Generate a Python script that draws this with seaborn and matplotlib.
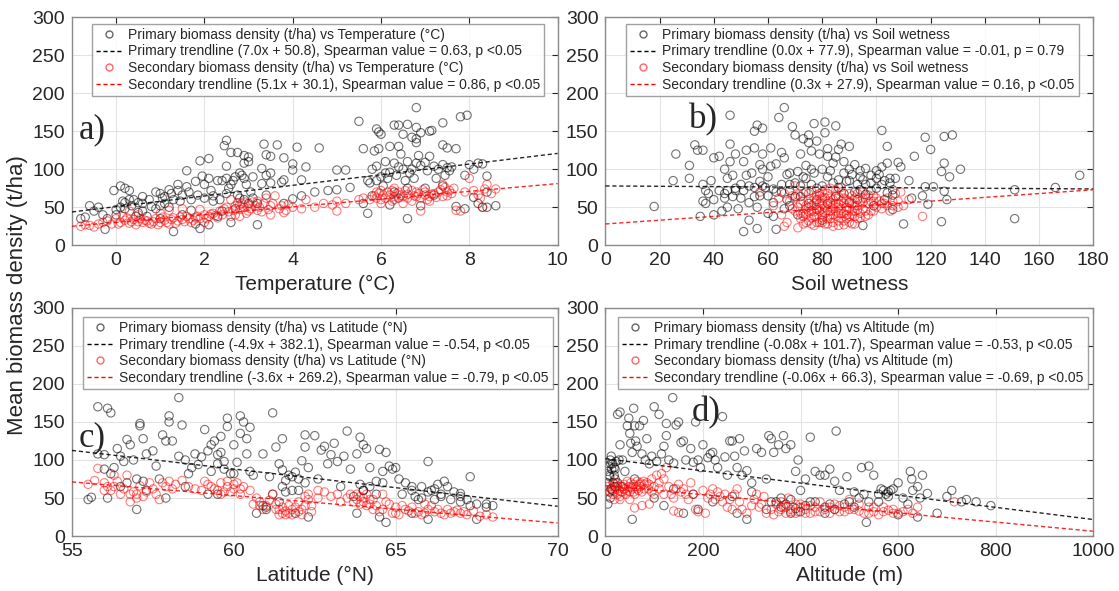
import numpy as np
import pandas as pd
import matplotlib
matplotlib.use("Agg")
import matplotlib.pyplot as plt
import seaborn as sns
from matplotlib.lines import Line2D

# ---- panel a: temperature ----
temp_prim_x = [6.8, 7.95, 7.8, 5.5, 7.4, 5.9, 6.3, 6.4, 6.6, 6.8, 6.9, 7.1, 7.15, 6.0, 5.95, 6.8, 6.5, 6.7, 6.4, 6.8,
               7.4, 7.5, 7.7, 6.2, 5.85, 5.95, 2.5, 2.45, 2.6, 2.75, 2.9, 3.0, 3.35, 3.65, 3.4, 3.5, 4.1, 4.6, 5.6, 3.8,
               1.9, 2.1, 1.6, 2.5, 2.9, 3.0, 3.3, 3.5, 3.4, 4.0, 4.0, 4.3, 5.0, 5.2, 1.0, 0.1, 0.2, -0.05, 0.3, 0.6,
               0.9, 1.2, 1.4, 1.4, 1.6, 1.8, 1.95, 2.0, 2.1, 2.3, 2.4, 2.5, 2.6, 2.7, 2.8, 2.9, 3.1, 3.3, 3.5, 3.8,
               3.75, 4.2, 4.5, 4.8, 5.0, 5.3, 5.7, 5.8, 5.9, 6.0, 6.1, 6.2, 6.3, 6.4, 6.5, 6.6, 6.7, 6.8, 6.9, 7.0,
               7.1, 7.2, 7.3, 7.4, 7.5, 7.6, 7.9, 8.0, 8.1, 8.2, 8.3, 8.4, 5.75, 5.8, 5.6, 5.7, 6.2, 6.4, 6.6, 6.9,
               7.0, 7.2, 7.4, 7.7, 7.9, 8.2, 8.3, 8.4, 8.6, 8.1, 8.4, 0.0, -0.3, -0.5, -0.7, -0.8, -0.2, -0.25, 0.2, 0.4,
               0.5, 0.8, 1.0, 1.1, 1.3, 1.2, 1.3, 1.5, 1.7, 1.8, 1.9, 2.1, 2.2, 2.3, 2.4, 2.6, 2.8, 2.9, 3.0, 3.2,
               0.1, 0.5, 0.7, 1.0, 0.3, 0.2, -0.4, -0.6, 0.9, 1.7, 2.2, 2.5, 2.7, 3.1, 3.4, 3.8, 4.0, 4.2, 2.0, 1.5,
               1.1, 0.6]
temp_prim_y = [181, 171, 169, 163, 161, 153, 158, 158, 159, 155, 148, 150, 151, 146, 149, 140, 146, 142, 130, 135,
               132, 128, 127, 130, 124, 127, 138, 131, 122, 122, 118, 116, 133, 132, 119, 117, 129, 128, 127, 115,
               111, 114, 98, 104, 108, 110, 101, 95, 92, 107, 99, 103, 99, 99, 68, 78, 75, 72, 72, 64,
               70, 73, 80, 72, 77, 84, 91, 80, 88, 85, 85, 88, 80, 90, 95, 88, 90, 81, 82, 86,
               83, 86, 70, 72, 73, 76, 85, 100, 104, 90, 95, 96, 108, 103, 100, 110, 100, 108, 105, 109,
               117, 104, 100, 106, 102, 103, 92, 106, 100, 108, 107, 91, 82, 65, 55, 42, 53, 62, 35, 52,
               75, 66, 78, 51, 48, 55, 50, 50, 52, 63, 70, 47, 40, 45, 37, 35, 35, 21, 56, 60,
               56, 51, 52, 55, 60, 50, 18, 40, 46, 28, 22, 27, 58, 38, 45, 30, 62, 60, 55, 27,
               50, 43, 38, 35, 60, 48, 50, 52, 48, 60, 65, 68, 48, 62, 66, 55, 61, 65, 62, 66,
               64, 45]
temp_prim_more = [(0.0, 40), (0.15, 58), (0.35, 52), (0.45, 38), (0.6, 55), (0.75, 60), (1.05, 62), (1.25, 68),
                  (1.45, 58), (1.65, 70), (1.85, 66), (2.15, 72), (2.35, 60), (2.55, 75), (2.65, 85), (2.75, 66),
                  (2.85, 92), (2.95, 80), (3.05, 70), (3.2, 55), (6.05, 78), (6.15, 88), (6.35, 92), (6.55, 85),
                  (6.65, 95), (6.75, 88), (6.85, 118), (7.05, 98), (7.25, 88), (7.45, 92), (7.55, 98), (6.3, 70),
                  (6.6, 75), (5.9, 85), (6.1, 110), (6.45, 120)]
temp_sec_x = [-0.8, -0.6, -0.5, -0.3, -0.2, -0.1, 0.0, 0.1, 0.15, 0.2, 0.3, 0.4, 0.5, 0.6, 0.7, 0.8, 0.9, 1.0, 1.05, 1.1,
              1.2, 1.3, 1.4, 1.5, 1.6, 1.7, 1.8, 1.9, 2.0, 2.1, 2.2, 2.3, 2.35, 2.4, 2.5, 2.55, 2.6, 2.7, 2.75, 2.8,
              2.85, 2.9, 2.95, 3.0, 3.05, 3.1, 3.2, 3.3, 3.35, 3.4, 3.5, 3.6, 3.7, 3.8, 3.9, 4.0, 4.2, 4.5, 4.7, 5.0,
              5.2, 5.5, 5.6, 5.75, 5.85, 5.9, 5.95, 6.0, 6.1, 6.2, 6.25, 6.3, 6.35, 6.4, 6.5, 6.55, 6.6, 6.7, 6.75, 6.8,
              6.85, 6.9, 6.95, 7.0, 7.05, 7.1, 7.2, 7.3, 7.4, 7.45, 7.5, 7.55, 7.6, 7.7, 7.8, 7.9, 8.0, 8.1, 8.2, 8.25,
              8.3, 8.35, 8.4, 8.5, 8.6, 7.4, 6.0, 6.5, 6.9, 7.1, 3.5, 2.0, 1.0, 0.5, 0.3, 1.2, 1.5, 1.9, 2.6, 2.8,
              3.2, 4.3, 4.9, 6.3, 5.0]
temp_sec_y = [25, 26, 24, 30, 32, 28, 35, 30, 38, 33, 29, 34, 31, 30, 32, 28, 35, 30, 37, 33,
              28, 36, 32, 34, 38, 30, 36, 35, 40, 38, 42, 36, 45, 40, 50, 44, 38, 52, 56, 47,
              55, 50, 42, 53, 48, 57, 46, 44, 55, 62, 52, 65, 48, 43, 54, 50, 48, 50, 55, 58,
              55, 60, 62, 60, 65, 70, 68, 72, 62, 66, 72, 60, 68, 70, 64, 72, 67, 58, 65, 70,
              68, 62, 73, 66, 60, 64, 68, 70, 80, 76, 65, 72, 68, 46, 45, 70, 88, 72, 66, 62,
              50, 74, 80, 68, 74, 64, 55, 55, 45, 58, 40, 30, 42, 40, 45, 46, 48, 47, 60, 38,
              58, 60, 53, 75, 45]
temp_sec_more = [(0.05, 28), (0.25, 36), (0.35, 31), (0.45, 27), (0.55, 35), (0.65, 33), (0.75, 29), (0.85, 31),
                 (0.95, 27), (1.15, 30), (1.25, 34), (1.35, 29), (1.45, 37), (1.55, 31), (1.65, 35), (1.75, 33),
                 (1.85, 38), (2.05, 35), (2.15, 41), (2.25, 39), (2.45, 48), (2.65, 46), (2.7, 40), (2.8, 53),
                 (2.9, 57), (3.0, 45), (3.15, 52), (3.25, 50), (3.45, 47), (3.55, 55), (3.75, 52), (3.85, 46),
                 (5.9, 62), (6.05, 66), (6.15, 70), (6.3, 64), (6.45, 66), (6.6, 62), (6.7, 72), (6.8, 64),
                 (7.0, 70), (7.15, 67), (7.25, 63), (7.35, 73), (7.5, 70), (7.65, 75), (6.0, 60), (6.25, 58),
                 (-0.4, 28), (-0.7, 27)]

# ---- panel b: soil wetness ----
soil_prim_x = [18, 25, 26, 31, 31, 33, 34, 35, 36, 36, 37, 36, 37, 38, 39, 40, 40, 42, 43, 44,
               44, 45, 45, 46, 46, 46, 47, 47, 48, 48, 49, 50, 51, 51, 51, 52, 52, 53, 53, 54,
               55, 55, 55, 56, 56, 56, 57, 57, 58, 58, 58, 59, 60, 60, 60, 61, 61, 62, 62, 63,
               63, 64, 65, 65, 66, 66, 67, 67, 68, 68, 69, 70, 70, 71, 71, 72, 73, 73, 74, 74,
               75, 75, 76, 76, 77, 77, 78, 78, 79, 80, 80, 81, 81, 82, 82, 83, 84, 85, 85, 86,
               86, 87, 88, 88, 89, 90, 90, 92, 93, 93, 94, 95, 95, 96, 98, 100, 100, 101, 102, 102,
               103, 104, 104, 105, 106, 106, 107, 108, 109, 110, 112, 113, 114, 117, 118, 118, 119, 120, 121, 124,
               124, 125, 125, 125, 126, 127, 128, 131, 151, 151, 166, 175, 40, 45, 53, 57, 63, 66, 68, 72,
               75, 85, 90, 94, 99, 104, 78, 82, 86, 91, 96, 98]
soil_prim_y = [51, 85, 120, 105, 88, 132, 125, 38, 125, 80, 72, 58, 55, 68, 85, 40, 115, 117, 45, 100,
               68, 88, 50, 171, 133, 110, 92, 64, 120, 75, 48, 62, 110, 72, 18, 92, 125, 33, 56, 95,
               150, 128, 76, 158, 50, 22, 106, 84, 154, 120, 100, 76, 65, 90, 42, 128, 104, 56, 38, 107,
               21, 168, 122, 80, 181, 115, 60, 93, 95, 52, 156, 145, 64, 40, 97, 120, 90, 140, 105, 70,
               145, 135, 100, 124, 160, 95, 137, 47, 120, 100, 33, 162, 148, 117, 127, 98, 108, 157, 116, 76,
               126, 133, 95, 110, 84, 100, 130, 106, 60, 80, 98, 26, 86, 67, 82, 88, 75, 93, 151, 103,
               60, 130, 108, 82, 47, 66, 88, 109, 103, 28, 85, 62, 117, 65, 142, 77, 54, 126, 77, 97,
               31, 143, 108, 71, 60, 90, 145, 100, 35, 73, 76, 92, 60, 72, 78, 65, 70, 48, 72, 78,
               55, 64, 56, 73, 52, 69, 75, 90, 86, 93, 101, 72]
soil_prim_more = [(78, 60), (80, 78), (82, 55), (84, 82), (88, 68), (90, 85), (92, 70), (94, 90), (96, 80),
                  (98, 92), (100, 98), (102, 80), (103, 85), (105, 88), (106, 73), (76, 80), (74, 88), (72, 64),
                  (70, 82), (68, 80), (65, 70), (62, 74), (58, 78), (55, 64), (50, 80), (48, 72), (44, 62), (42, 72)]
soil_sec_x = [57, 62, 64, 65, 66, 67, 68, 69, 70, 70, 71, 72, 72, 73, 73, 74, 74, 75, 75, 76,
              76, 77, 77, 78, 78, 79, 79, 80, 80, 80, 81, 81, 82, 82, 83, 83, 84, 84, 85, 85,
              86, 86, 87, 87, 88, 88, 89, 89, 90, 90, 91, 91, 92, 92, 93, 93, 94, 94, 95, 95,
              96, 96, 97, 98, 99, 100, 101, 102, 103, 104, 105, 106, 107, 108, 109, 110, 112, 117, 76, 78,
              81, 83, 85, 87, 89, 91, 79, 84, 86, 74, 70, 66, 88, 93, 82, 80, 77, 86, 90, 84,
              95, 99, 73, 75, 80, 83, 92, 87]
soil_sec_y = [70, 52, 62, 40, 25, 30, 58, 65, 78, 45, 23, 55, 35, 68, 28, 48, 40, 60, 32, 72,
              52, 44, 26, 66, 38, 55, 30, 70, 48, 40, 62, 28, 58, 35, 75, 45, 52, 30, 65, 38,
              55, 26, 48, 70, 42, 32, 60, 50, 68, 38, 55, 28, 45, 62, 35, 52, 58, 42, 70, 48,
              38, 62, 55, 45, 65, 50, 58, 48, 55, 62, 45, 52, 68, 58, 70, 52, 60, 38, 36, 58,
              50, 35, 45, 35, 40, 45, 45, 40, 42, 52, 62, 68, 55, 47, 68, 55, 63, 64, 48, 60,
              56, 58, 42, 44, 30, 56, 38, 58]
soil_sec_more = [(71, 50), (72, 42), (73, 58), (74, 30), (75, 68), (76, 45), (77, 38), (78, 50), (79, 65),
                 (80, 36), (81, 42), (82, 46), (83, 62), (84, 48), (85, 55), (86, 32), (87, 42), (88, 62),
                 (89, 35), (90, 58), (91, 40), (92, 52), (93, 68), (94, 36), (95, 62), (96, 45), (97, 40),
                 (98, 58), (100, 62), (102, 55), (76, 28), (78, 30), (82, 28), (84, 25), (88, 27), (90, 30),
                 (92, 28), (80, 62), (85, 72), (87, 76), (81, 73), (79, 68), (77, 55), (75, 50), (73, 38),
                 (86, 50), (89, 46), (91, 65), (83, 40), (97, 66), (99, 45), (104, 52), (106, 58), (108, 50),
                 (71, 66), (69, 48)]

# ---- panel c: latitude ----
lat_prim_x = [55.5, 55.6, 55.8, 55.8, 56.1, 56.2, 56.0, 56.0, 56.2, 56.3, 56.4, 56.5, 56.6, 56.7, 56.8, 56.9, 57.0, 57.0,
              57.1, 57.1, 57.2, 57.3, 57.3, 57.5, 57.6, 57.7, 57.8, 57.9, 57.9, 58.0, 58.0, 58.1, 58.3, 58.3, 58.4,
              58.5, 58.6, 58.8, 58.9, 59.0, 59.1, 59.2, 59.3, 59.4, 59.5, 59.6, 59.6, 59.7, 59.8, 59.8, 59.9, 60.0,
              60.1, 60.2, 60.2, 60.3, 60.4, 60.4, 60.5, 60.5, 60.6, 60.9, 61.1, 61.2, 61.3, 61.4, 61.5, 61.5, 61.6,
              61.7, 61.8, 61.9, 62.1, 62.2, 62.2, 62.3, 62.5, 62.6, 62.7, 62.8, 62.9, 63.0, 63.1, 63.2, 63.4, 63.5,
              63.6, 63.8, 63.9, 64.0, 64.1, 64.2, 64.5, 64.6, 64.7, 64.8, 64.9, 65.0, 65.1, 65.3, 65.5, 65.8, 66.0,
              66.1, 66.3, 66.5, 66.6, 66.8, 67.0, 67.2, 67.3, 67.5, 67.8, 68.0, 62.3, 61.9, 61.0, 59.2, 60.7, 63.8,
              64.5, 64.7, 65.5, 66.0, 67.5, 56.1, 56.5, 58.5, 59.5, 61.2, 62.0, 63.3, 64.0, 64.4, 65.2, 65.8, 66.4,
              67.0, 65.6, 66.2, 63.7]
lat_prim_y = [48, 51, 108, 170, 168, 162, 107, 88, 82, 90, 115, 105, 98, 127, 120, 100, 75, 35,
              148, 145, 128, 108, 60, 112, 92, 75, 133, 125, 50, 158, 150, 125, 105, 182, 146,
              100, 82, 108, 94, 104, 140, 112, 120, 125, 107, 131, 110, 98, 155, 144, 82, 120,
              97, 158, 135, 150, 128, 108, 143, 85, 80, 108, 78, 162, 117, 95, 87, 128, 73,
              80, 60, 84, 99, 133, 117, 90, 132, 75, 113, 118, 95, 107, 122, 98, 105, 138,
              88, 108, 130, 120, 115, 90, 114, 85, 110, 92, 88, 90, 75, 70, 65, 65, 98,
              60, 68, 72, 65, 58, 52, 48, 78, 42, 38, 40, 25, 30, 35, 55, 30, 30,
              25, 18, 30, 22, 22, 50, 65, 65, 55, 55, 60, 65, 60, 55, 55, 50, 55,
              45, 52, 48, 52]
lat_prim_more = [(61.4, 45), (61.5, 65), (61.6, 58), (61.8, 78), (62.0, 75), (62.2, 70), (63.9, 68), (64.0, 60),
                 (64.2, 65), (64.4, 72), (64.6, 70), (65.5, 60), (65.7, 48), (66.0, 58), (66.2, 62), (66.4, 52),
                 (66.7, 48), (67.0, 56), (67.3, 40), (67.8, 42), (59.3, 85), (59.5, 95), (59.7, 88), (60.0, 82),
                 (58.7, 90), (56.7, 70), (57.2, 72), (60.9, 40), (61.0, 38)]
lat_sec_x = [55.5, 55.7, 55.8, 56.0, 56.1, 56.2, 56.3, 56.4, 56.5, 56.6, 56.8, 56.9, 57.0, 57.1, 57.2, 57.4, 57.5, 57.7,
             57.8, 57.9, 58.0, 58.2, 58.4, 58.6, 58.8, 59.0, 59.2, 59.4, 59.6, 59.8, 59.9, 60.1, 60.2, 60.3, 60.5,
             60.7, 60.8, 61.0, 61.2, 61.4, 61.5, 61.6, 61.8, 62.0, 62.2, 62.3, 62.4, 62.6, 62.8, 63.0, 63.2, 63.5,
             63.7, 63.8, 64.0, 64.1, 64.3, 64.5, 64.7, 64.9, 65.0, 65.2, 65.4, 65.6, 65.8, 66.0, 66.2, 66.4, 66.6,
             66.8, 67.0, 67.2, 67.4, 67.6, 67.8, 68.0, 61.7, 61.3, 62.1, 63.3, 64.2, 65.1, 66.1, 59.1, 60.0, 58.1,
             57.3, 56.7, 57.6, 60.6, 61.1, 63.9, 64.6, 65.9]
lat_sec_y = [68, 73, 89, 70, 65, 60, 80, 72, 55, 62, 45, 58, 55, 66, 52, 70, 62, 48,
             70, 65, 72, 68, 73, 65, 62, 60, 68, 62, 70, 65, 58, 70, 55, 65, 60,
             50, 45, 40, 55, 35, 30, 28, 35, 32, 52, 48, 40, 60, 58, 52, 55, 50,
             45, 55, 50, 40, 35, 32, 45, 30, 38, 40, 33, 30, 28, 35, 32, 30, 35,
             32, 30, 28, 33, 26, 28, 25, 40, 42, 28, 45, 48, 28, 40, 72, 62, 62,
             58, 80, 55, 42, 47, 42, 55, 42]
lat_sec_more = [(61.3, 35), (61.4, 28), (61.5, 38), (61.6, 33), (61.7, 30), (61.8, 28), (61.9, 38), (62.0, 45),
                (62.1, 35), (62.2, 40), (62.3, 55), (62.4, 32), (62.6, 50), (63.6, 55), (63.8, 48), (63.9, 52),
                (64.0, 45), (64.1, 55), (64.2, 42), (64.3, 48), (64.4, 40), (64.6, 35), (64.8, 42), (65.0, 30),
                (65.3, 35), (65.5, 38), (65.7, 32), (65.9, 30), (66.3, 35), (66.5, 28), (66.7, 30), (66.9, 34),
                (67.1, 32), (59.3, 65), (59.5, 60), (59.7, 58), (59.8, 72), (60.0, 68), (60.2, 62), (59.6, 55),
                (56.0, 60), (56.3, 65), (56.8, 55), (57.0, 50), (60.8, 40), (60.9, 35)]

# ---- panel d: altitude ----
alt_prim_x = [5, 8, 10, 12, 15, 18, 20, 25, 30, 30, 35, 40, 45, 48, 50, 52, 55, 55, 58, 60,
              62, 65, 70, 75, 78, 82, 85, 90, 95, 100, 105, 110, 115, 120, 125, 125, 130, 138, 140, 145,
              150, 155, 160, 165, 175, 180, 185, 190, 195, 200, 210, 215, 220, 225, 230, 240, 245, 250, 255, 260,
              265, 270, 275, 280, 285, 290, 300, 310, 320, 330, 335, 340, 345, 355, 365, 370, 380, 390, 395, 400,
              410, 420, 430, 440, 450, 460, 470, 473, 480, 495, 510, 525, 530, 540, 550, 565, 575, 585, 600, 625,
              628, 640, 645, 650, 660, 700, 710, 730, 740, 760, 790, 535, 290, 680, 640, 600, 450, 380, 400, 330,
              270, 190, 160, 120, 10, 20, 60, 100, 140, 180, 220, 260, 300, 340, 360, 420, 460, 500, 520, 560,
              580, 620, 20, 25, 15, 35]
alt_prim_y = [42, 80, 100, 105, 95, 90, 75, 160, 163, 120, 100, 85, 145, 155, 135, 122, 110, 22, 168, 145,
              125, 118, 145, 108, 152, 100, 128, 95, 105, 170, 98, 160, 108, 118, 148, 132, 100, 182, 96, 146,
              150, 123, 125, 100, 115, 97, 150, 100, 90, 120, 103, 108, 110, 100, 90, 157, 104, 80, 125, 125,
              105, 90, 128, 80, 112, 86, 70, 115, 110, 75, 132, 128, 110, 120, 132, 115, 120, 85, 100, 60,
              75, 130, 85, 80, 80, 88, 72, 138, 60, 78, 58, 90, 55, 92, 80, 62, 55, 60, 70, 85,
              75, 65, 50, 80, 56, 52, 60, 45, 48, 45, 40, 18, 22, 30, 25, 28, 30, 30, 32, 35,
              30, 35, 30, 40, 50, 65, 75, 50, 62, 55, 45, 52, 58, 45, 50, 45, 42, 45, 50, 45,
              52, 42, 88, 70, 60, 65]
alt_prim_more = [(3, 70), (5, 85), (7, 92), (9, 78), (11, 95), (13, 88), (16, 70), (22, 98), (28, 100), (12, 62),
                 (8, 58), (18, 80), (350, 45), (360, 38), (370, 42), (380, 48), (390, 36), (410, 40), (430, 45),
                 (450, 38), (470, 35), (490, 42), (510, 38), (540, 45), (560, 55), (570, 60), (580, 58), (590, 62),
                 (610, 50), (630, 60)]
alt_sec_x = [5, 10, 15, 18, 20, 22, 25, 28, 30, 32, 35, 38, 40, 42, 45, 48, 50, 52, 55, 58,
             60, 62, 65, 68, 70, 72, 75, 78, 80, 85, 90, 95, 100, 105, 110, 115, 120, 125, 130, 135,
             140, 145, 150, 155, 160, 165, 170, 175, 180, 185, 190, 200, 205, 210, 215, 220, 225, 230, 235, 240,
             245, 250, 255, 260, 265, 270, 275, 280, 290, 300, 305, 310, 315, 320, 325, 330, 340, 345, 350, 355,
             360, 365, 370, 375, 380, 390, 395, 400, 410, 420, 430, 440, 450, 460, 470, 480, 490, 500, 510, 520,
             530, 540, 550, 560, 570, 580, 590, 600, 610, 620, 630, 640, 715, 75, 90, 60, 140, 150, 120, 50,
             30]
alt_sec_y = [65, 58, 55, 48, 62, 70, 55, 60, 48, 65, 58, 68, 62, 55, 72, 65, 58, 70, 62, 68,
             55, 65, 72, 60, 68, 65, 58, 72, 62, 70, 68, 75, 65, 80, 70, 82, 75, 90, 65, 55,
             50, 62, 68, 58, 62, 55, 48, 70, 55, 35, 32, 60, 30, 50, 55, 62, 48, 58, 52, 45,
             55, 38, 48, 35, 55, 62, 45, 35, 30, 40, 48, 55, 38, 42, 52, 30, 35, 28, 42, 32,
             45, 38, 30, 50, 35, 42, 32, 38, 30, 40, 32, 45, 35, 30, 42, 32, 38, 48, 35, 42,
             30, 38, 32, 28, 38, 34, 35, 30, 32, 35, 30, 38, 45, 40, 42, 37, 33, 31, 55, 48,
             52]
alt_sec_more = [(12, 62), (18, 68), (25, 65), (32, 58), (38, 62), (45, 60), (52, 64), (58, 58), (65, 62), (72, 70),
                (80, 68), (88, 62), (95, 58), (100, 55), (110, 62), (360, 35), (370, 38), (380, 32), (390, 30),
                (400, 42), (410, 35), (420, 30), (430, 38), (440, 32), (460, 38), (470, 35), (480, 40), (490, 32),
                (500, 35), (520, 33), (540, 30), (550, 38), (570, 32), (590, 30)]


def join(xs, ys, more):
    mx, my = zip(*more)
    return list(xs) + list(mx), list(ys) + list(my)


panels = [
    dict(prim=join(temp_prim_x, temp_prim_y, temp_prim_more), sec=join(temp_sec_x, temp_sec_y, temp_sec_more),
         xlim=(-1, 10), xticks=[0, 2, 4, 6, 8, 10], xlabel='Temperature (°C)', tag='a)', tagpos=(0.014, 0.505),
         pfit=(7.0, 50.8), sfit=(5.1, 30.1), legx=0.041, legy=0.972,
         labels=['Primary biomass density (t/ha) vs Temperature (°C)',
                 'Primary trendline (7.0x + 50.8), Spearman value = 0.63, p <0.05',
                 'Secondary biomass density (t/ha) vs Temperature (°C)',
                 'Secondary trendline (5.1x + 30.1), Spearman value = 0.86, p <0.05']),
    dict(prim=join(soil_prim_x, soil_prim_y, soil_prim_more), sec=join(soil_sec_x, soil_sec_y, soil_sec_more),
         xlim=(0, 180), xticks=list(range(0, 181, 20)), xlabel='Soil wetness', tag='b)', tagpos=(0.172, 0.55),
         pfit=(-0.022, 78.0), sfit=(0.25, 28.0), legx=0.042, legy=0.972,
         labels=['Primary biomass density (t/ha) vs Soil wetness',
                 'Primary trendline (0.0x + 77.9), Spearman value = -0.01, p = 0.79',
                 'Secondary biomass density (t/ha) vs Soil wetness',
                 'Secondary trendline (0.3x + 27.9), Spearman value = 0.16, p <0.05']),
    dict(prim=join(lat_prim_x, lat_prim_y, lat_prim_more), sec=join(lat_sec_x, lat_sec_y, lat_sec_more),
         xlim=(55, 70), xticks=[55, 60, 65, 70], xlabel='Latitude (°N)', tag='c)', tagpos=(0.014, 0.43),
         pfit=(-4.9, 382.1), sfit=(-3.6, 269.2), legx=0.023, legy=0.962,
         labels=['Primary biomass density (t/ha) vs Latitude (°N)',
                 'Primary trendline (-4.9x + 382.1), Spearman value = -0.54, p <0.05',
                 'Secondary biomass density (t/ha) vs Latitude (°N)',
                 'Secondary trendline (-3.6x + 269.2), Spearman value = -0.79, p <0.05']),
    dict(prim=join(alt_prim_x, alt_prim_y, alt_prim_more), sec=join(alt_sec_x, alt_sec_y, alt_sec_more),
         xlim=(0, 1000), xticks=[0, 200, 400, 600, 800, 1000], xlabel='Altitude (m)', tag='d)', tagpos=(0.178, 0.54),
         pfit=(-0.08, 101.7), sfit=(-0.06, 66.3), legx=0.026, legy=0.962,
         labels=['Primary biomass density (t/ha) vs Altitude (m)',
                 'Primary trendline (-0.08x + 101.7), Spearman value = -0.53, p <0.05',
                 'Secondary biomass density (t/ha) vs Altitude (m)',
                 'Secondary trendline (-0.06x + 66.3), Spearman value = -0.69, p <0.05']),
]

sns.set_style('white')
plt.rcParams['font.family'] = ['Liberation Sans', 'DejaVu Sans']

fig = plt.figure(figsize=(11.19, 5.91), dpi=100)
boxes = [[0.0643, 0.585, 0.434, 0.386], [0.541, 0.585, 0.436, 0.386],
         [0.0643, 0.093, 0.434, 0.386], [0.541, 0.093, 0.436, 0.386]]

for box, p in zip(boxes, panels):
    ax = fig.add_axes(box)
    ax.grid(True, color='#e3e3e3', lw=0.8)
    ax.set_axisbelow(True)
    sns.scatterplot(x=p['prim'][0], y=p['prim'][1], ax=ax, marker='o', s=36, facecolors='none',
                    edgecolor='black', linewidth=0.8, alpha=0.55, zorder=2)
    sns.scatterplot(x=p['sec'][0], y=p['sec'][1], ax=ax, marker='o', s=36, facecolors='none',
                    edgecolor='red', linewidth=0.8, alpha=0.5, zorder=3)
    xs = np.array(p['xlim'], dtype=float)
    ax.plot(xs, p['pfit'][0] * xs + p['pfit'][1], ls=(0, (3, 2)), color='black', lw=1, alpha=0.85, zorder=4)
    ax.plot(xs, p['sfit'][0] * xs + p['sfit'][1], ls=(0, (3, 2)), color='red', lw=1, alpha=0.85, zorder=4)
    ax.set_xlim(*p['xlim'])
    ax.set_ylim(0, 300)
    ax.set_xticks(p['xticks'])
    ax.set_yticks(range(0, 301, 50))
    ax.tick_params(direction='in', length=4, labelsize=14, colors='#262626',
                   top=True, right=True, pad=5)
    for s in ax.spines.values():
        s.set_color('#8a8a8a')
        s.set_linewidth(1)
    ax.set_xlabel(p['xlabel'], fontsize=15, color='#262626', labelpad=4)
    ax.text(*p['tagpos'], p['tag'], transform=ax.transAxes, fontsize=25,
            family='Liberation Serif', va='center', ha='left')
    handles = [Line2D([], [], ls='none', marker='o', mfc='none', mec='black', ms=5, alpha=0.6),
               Line2D([], [], ls=(0, (3, 2)), color='black', lw=1),
               Line2D([], [], ls='none', marker='o', mfc='none', mec='red', ms=5, alpha=0.6),
               Line2D([], [], ls=(0, (3, 2)), color='red', lw=1)]
    leg = ax.legend(handles, p['labels'], loc='upper left', bbox_to_anchor=(p['legx'], p['legy']),
                    fontsize=10, frameon=True, fancybox=False, handlelength=1.8,
                    borderpad=0.3, labelspacing=0.2, handletextpad=0.5, borderaxespad=0)
    leg.get_frame().set_edgecolor('#8a8a8a')
    leg.get_frame().set_linewidth(1)

fig.text(0.016, 0.5, 'Mean biomass density (t/ha)', rotation=90, va='center', ha='center',
         fontsize=16, color='#262626')

fig.savefig('out.png', dpi=100)
